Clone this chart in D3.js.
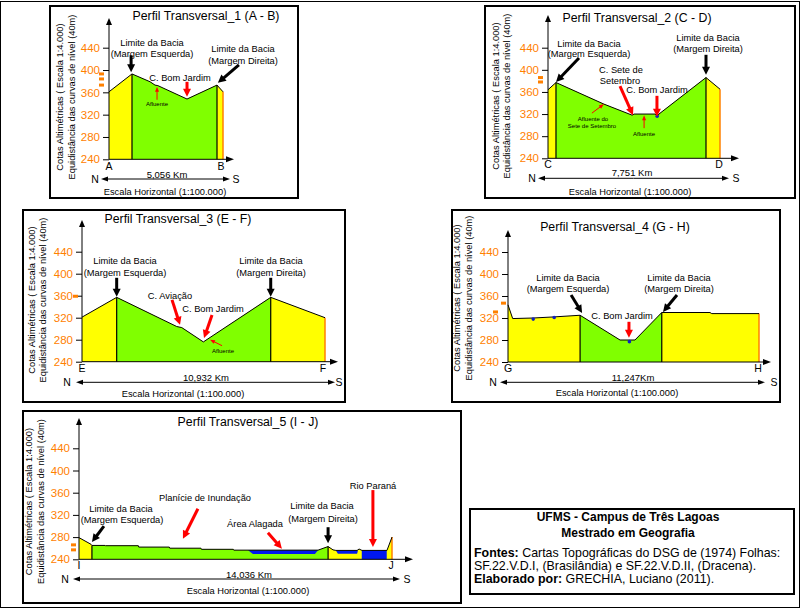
<!DOCTYPE html>
<html><head><meta charset="utf-8">
<script src="https://cdn.jsdelivr.net/npm/d3@7"></script>
<style>
body{margin:0;background:#fff}
svg text{font-family:"Liberation Sans",Arial,sans-serif}
</style></head><body>
<svg id="c" width="802" height="610"></svg>
<script>
// ---------- DATA ----------
const yTicks = [240, 280, 320, 360, 400, 440];
const profileTitles = ["Perfil Transversal_1 (A - B)", "Perfil Transversal_2 (C - D)", "Perfil Transversal_3 (E - F)", "Perfil Transversal_4 (G - H)", "Perfil Transversal_5 (I - J)"];
const endLetters = [["A","B"],["C","D"],["E","F"],["G","H"],["I","J"]];
const totalKm = [5.056, 7.751, 10.932, 11.247, 14.036];
const distanceLabels = ["5,056 Km", "7,751 Km", "10,932 Km", "11,247Km", "14,036 Km"];

// [distance km, elevation m]
const profile1 = [[0,361],[1.02,393],[1.82,379],[2.04,373],[2.17,372],[3.46,348],[4.79,373],[5.056,361]];
const profile2 = [[0,364],[0.36,377],[2.52,338],[3.79,318],[3.88,320],[4.83,320],[4.92,316],[5.0,320],[7.12,386],[7.751,365]];
const profile3 = [[0,321],[1.56,357],[4.26,304],[4.49,302],[5.46,276],[8.49,357],[10.932,320]];
const profile4 = [[0,344],[0.21,319],[1.13,320],[2.07,322],[3.23,325],[5.02,280],[5.69,280],[6.89,330],[9.05,330],[9.13,328],[11.247,328]];
const profile5 = [[0,279],[0.54,267],[0.58,265],[1.17,265],[1.19,264.5],[2.66,264.5],[2.68,262],[4.05,262],[4.07,260],[5.47,260],[5.49,258],[6.92,258],[6.94,256.5],[10.72,256.5],[11.17,263],[11.39,257],[11.52,256],[12.47,256],[12.56,258.5],[12.69,256],[13.81,256],[14.036,280]];

// basin limits (km) – green zone
const basin1 = [1.02, 4.79];
const basin2 = [0.36, 7.12];
const basin3 = [1.56, 8.49];
const basin4 = [3.23, 6.89];
const basin5 = [0.58, 11.17];

// water bodies in profile 5 (km, m)
const areaAlagada = [[7.58,256.5],[10.72,256.5],[10.58,249.5],[7.80,249.5]];
const pondRight = [[11.52,256],[12.51,256],[12.47,250],[11.61,250]];
const rioParana = [[12.68,256],[13.80,256],[13.80,240],[12.68,240]];

// stream points (km, m)
const streams2 = [[4.92,316]];
const streams4 = [[1.13,318],[2.07,321],[5.44,277]];

// orange marks on the elevation axis (m)
const marks1 = [393, 384, 373];
const marks2 = [386, 378];
const marks3 = [359];
const marks4 = [347, 331];
const marks5 = [266, 257];

// ---------- LAYOUT ----------
const panels = [
 {profile:profile1, basin:basin1, water:[], streams:[], marks:marks1, markX:[-6,-6,-6],
  box:[50,6,298,198], xr:[109,223], yr:[159.3,47.7], yTop:18, xEnd:234,
  title:[206,20], yt:[62.5,74.5,97], letY:170, letX:[109,221], km:[167,177.5], ns:[95,236,179,101,230], esc:[165,195],
  texts:[["Limite da Bacia",152,45.5],["(Margem Esquerda)",152,56.5],["Limite da Bacia",243,51.5],["(Margem Direita)",243,63.5],["C. Bom Jardim",180,80.5],["Afluente",157,106,6]],
  arrows:[[0.98,396,0,-17,"#000",1],[4.83,377,21,-18,"#000",1],[3.46,352,0,-15,"#f00",1],[2.13,370,0,13,"#f00",0]]},
 {profile:profile2, basin:basin2, water:[], streams:streams2, marks:marks2, markX:[-6,-6],
  box:[485,6,795,198], xr:[548,720], yr:[158.3,47.7], yTop:15, xEnd:739,
  title:[637,21.5], yt:[498.5,509.5,96], letY:167.5, letX:[548,719], km:[632,176], ns:[532,736,178.3,538,729], esc:[630,195],
  texts:[["Limite da Bacia",589,46.5],["(Margem Esquerda)",589,57],["Limite da Bacia",708,40.5],["(Margem Direita)",708,51.5],["C. Sete de",621,72.5],["Setembro",620,84],["C. Bom Jardim",657,92.5],["Afluente do",593,121,6],["Sete de Setembro",592,127.5,6],["Afluente",644,136,6]],
  arrows:[[0.36,378,23,-24,"#000",1],[7.12,391,0,-20,"#000",1],[3.83,318,-13,-29,"#f00",1],[4.91,315,0,-21,"#f00",1],[2.52,338,-12,9,"#f00",0],[4.33,318,0,13,"#f00",0]]},
 {profile:profile3, basin:basin3, water:[], streams:[], marks:marks3, markX:[-5],
  box:[23,210,345,402], xr:[82,325], yr:[361.7,251.7], yTop:220, xEnd:338,
  title:[178,222.5], yt:[35,46,300], letY:372, letX:[82,323], km:[206,380.5], ns:[67,339,382.3,76,335], esc:[183,396.5],
  texts:[["Limite da Bacia",125,264],["(Margem Esquerda)",125,275.5],["Limite da Bacia",271,264],["(Margem Direita)",271,275.5],["C. Aviação",170,299],["C. Bom Jardim",213,312],["Afluente",223,353,6]],
  arrows:[[1.56,358,0,-19,"#000",1],[8.49,358,0,-19,"#000",1],[4.41,307,-8,-25,"#f00",1],[5.49,283,8,-23,"#f00",1],[5.76,280,12,6,"#f00",0]]},
 {profile:profile4, basin:basin4, water:[], streams:streams4, marks:marks4, markX:[-3,-11],
  box:[452,210,780,402], xr:[508,759], yr:[362,252], yTop:230, xEnd:771,
  title:[615,231], yt:[460,472,298], letY:372, letX:[508,758], km:[633,381], ns:[493,774,382.3,500,765], esc:[617,396],
  texts:[["Limite da Bacia",568,280.5],["(Margem Esquerda)",568,291.5],["Limite da Bacia",679,280.5],["(Margem Direita)",679,291.5],["C. Bom Jardim",622,319]],
  arrows:[[3.32,329,-11,-18,"#000",1],[6.945,331,14,-17,"#000",1],[5.42,284,0,-16,"#f00",1]]},
 {profile:profile5, basin:basin5, water:[areaAlagada,pondRight,rioParana], streams:[], marks:marks5, markX:[-4,-4],
  box:[23,411,461,603], xr:[79,392], yr:[559.3,448.3], yTop:418, xEnd:413,
  title:[248,426], yt:[32,44,501.5], letY:569, letX:[79,391], km:[249,577.5], ns:[65,407,579,73,400], esc:[248,593.5],
  texts:[["Limite da Bacia",121,511.5],["(Margem Esquerda)",122,522.5],["Planície de Inundação",205,501],["Área Alagada",255,527],["Limite da Bacia",322,509],["(Margem Direita)",323,521.5],["Rio Paraná",373,488.5]],
  arrows:[[0.58,271,12,-16,"#000",1],[4.66,277,15,-30,"#f00",1],[9.10,259,-14,-16,"#f00",1],[11.17,269,0,-16,"#000",1],[13.18,262,0,-57,"#f00",1]]}
];

const YELLOW = "#ffff00", GREEN = "#80ff00", BLUE = "#0018f0", ORANGE = "#ff8000";

const svg = d3.select("#c");
const defs = svg.append("defs");
svg.append("rect").attr("x",0.5).attr("y",1.5).attr("width",799).attr("height",606)
  .attr("fill","none").attr("stroke","#000").attr("stroke-width",1);

function arrow(g, x1, y1, x2, y2, color, w, hl, hw) {
  const dx = x2 - x1, dy = y2 - y1, L = Math.hypot(dx, dy), ux = dx / L, uy = dy / L;
  const bx = x2 - ux * hl, by = y2 - uy * hl;
  g.append("line").attr("x1", x1).attr("y1", y1).attr("x2", bx + ux).attr("y2", by + uy)
    .attr("stroke", color).attr("stroke-width", w);
  g.append("path").attr("d", `M${x2},${y2}L${bx - uy * hw / 2},${by + ux * hw / 2}L${bx + uy * hw / 2},${by - ux * hw / 2}Z`)
    .attr("fill", color);
}
function elevAt(p, km) {
  for (let i = 1; i < p.length; i++) {
    if (km <= p[i][0]) {
      const t = (km - p[i-1][0]) / (p[i][0] - p[i-1][0]);
      return p[i-1][1] + t * (p[i][1] - p[i-1][1]);
    }
  }
  return p[p.length-1][1];
}
function txt(g, s, x, y, size, opts = {}) {
  return g.append("text").attr("x", x).attr("y", y).attr("font-size", size + "px")
    .attr("text-anchor", opts.anchor || "middle").attr("fill", opts.fill || "#000")
    .attr("font-weight", opts.weight || "normal").text(s);
}

panels.forEach((P, i) => {
  const g = svg.append("g");
  const [bx0, by0, bx1, by1] = P.box;
  g.append("rect").attr("x", bx0).attr("y", by0).attr("width", bx1 - bx0).attr("height", by1 - by0)
    .attr("fill", "#fff").attr("stroke", "#000").attr("stroke-width", 2);

  const x = d3.scaleLinear().domain([0, totalKm[i]]).range(P.xr);
  const y = d3.scaleLinear().domain([240, 440]).range(P.yr);
  const area = d3.area().x(d => x(d[0])).y0(y(240)).y1(d => y(d[1]));
  const line = d3.line().x(d => x(d[0])).y(d => y(d[1]));

  // yellow full profile
  g.append("path").datum(P.profile).attr("d", area).attr("fill", YELLOW);
  // green basin
  const cid = "clip" + i;
  defs.append("clipPath").attr("id", cid).append("rect")
    .attr("x", x(P.basin[0])).attr("y", by0).attr("width", x(P.basin[1]) - x(P.basin[0])).attr("height", y(240) - by0);
  g.append("path").datum(P.profile).attr("d", area).attr("fill", GREEN).attr("clip-path", `url(#${cid})`);
  // water
  P.water.forEach(w => {
    g.append("path").attr("d", d3.line().x(d => x(d[0])).y(d => y(d[1]))(w) + "Z").attr("fill", BLUE);
  });
  // dividers
  P.basin.forEach(b => {
    g.append("line").attr("x1", x(b)).attr("x2", x(b)).attr("y1", y(240)).attr("y2", y(elevAt(P.profile, b)))
      .attr("stroke", "#000").attr("stroke-width", 1.2);
  });
  const last = P.profile[P.profile.length - 1];
  g.append("line").attr("x1", x(last[0])).attr("x2", x(last[0])).attr("y1", y(240)).attr("y2", y(last[1]))
    .attr("stroke", ORANGE).attr("stroke-width", 1.5);
  // profile line
  g.append("path").datum(P.profile).attr("d", line).attr("fill", "none").attr("stroke", "#000").attr("stroke-width", 1);
  // stream points
  g.selectAll(null).data(P.streams).join("circle").attr("cx", d => x(d[0])).attr("cy", d => y(d[1]))
    .attr("r", 1.8).attr("fill", "#1020c0");

  // y axis
  const ax = g.append("g").attr("transform", `translate(${P.xr[0]},0)`)
    .call(d3.axisLeft(y).tickValues(yTicks).tickSize(6).tickPadding(3).tickSizeOuter(0));
  ax.select(".domain").remove();
  ax.selectAll("text").attr("fill", ORANGE).attr("font-size", "11.5px").attr("font-family", '"Liberation Sans",Arial,sans-serif');
  ax.selectAll("line").attr("stroke", "#000");
  arrow(g, P.xr[0], y(240), P.xr[0], P.yTop, "#000", 1, 7, 6);
  arrow(g, P.xr[0], y(240), P.xEnd, y(240), "#000", 1, 8, 6);
  // orange marks
  P.marks.forEach((m, k) => {
    g.append("rect").attr("x", P.xr[0] + P.markX[k] - 4).attr("y", y(m) - 1.5).attr("width", 5).attr("height", 3).attr("fill", ORANGE);
  });

  // titles
  txt(g, profileTitles[i], P.title[0], P.title[1], 12.3);
  [["Cotas Altimétricas ( Escala 1:4.000)", P.yt[0]], ["Equidistância das curvas de nível (40m)", P.yt[1]]].forEach(([s, xx]) => {
    g.append("text").attr("transform", `translate(${xx},${P.yt[2]}) rotate(-90)`).attr("text-anchor", "middle")
      .attr("font-size", "9.3px").attr("fill", "#000").text(s);
  });
  txt(g, endLetters[i][0], P.letX[0], P.letY, 10.5);
  txt(g, endLetters[i][1], P.letX[1], P.letY, 10.5);
  txt(g, distanceLabels[i], P.km[0], P.km[1], 9.5);
  txt(g, "N", P.ns[0], P.ns[2] + 3.8, 10.5);
  txt(g, "S", P.ns[1], P.ns[2] + 3.8, 10.5);
  arrow(g, (P.ns[3] + P.ns[4]) / 2, P.ns[2], P.ns[4], P.ns[2], "#000", 1, 7, 5);
  arrow(g, (P.ns[3] + P.ns[4]) / 2, P.ns[2], P.ns[3], P.ns[2], "#000", 1, 7, 5);
  txt(g, "Escala Horizontal (1:100.000)", P.esc[0], P.esc[1], 9.3);

  P.texts.forEach(t => txt(g, t[0], t[1], t[2], t[3] || 9.3));
  P.arrows.forEach(a => {
    const tx = x(a[0]), ty = y(a[1]);
    if (a[5]) arrow(g, tx + a[2], ty + a[3], tx, ty, a[4], 3, 8, 8);
    else arrow(g, tx + a[2], ty + a[3], tx, ty, a[4], 1, 5, 4);
  });
});

// credits box
const cb = svg.append("g");
cb.append("rect").attr("x", 470).attr("y", 509).attr("width", 324).attr("height", 85)
  .attr("fill", "#fff").attr("stroke", "#000").attr("stroke-width", 2);
txt(cb, "UFMS - Campus de Três Lagoas", 628, 521, 12, {weight: "bold"});
txt(cb, "Mestrado em Geografia", 628, 537, 12, {weight: "bold"});
const l1 = cb.append("text").attr("x", 474).attr("y", 557).attr("font-size", "12.4px");
l1.append("tspan").attr("font-weight", "bold").text("Fontes: ");
l1.append("tspan").text("Cartas Topográficas do DSG de (1974) Folhas:");
cb.append("text").attr("x", 474).attr("y", 570).attr("font-size", "12.4px").text("SF.22.V.D.I, (Brasilândia) e SF.22.V.D.II, (Dracena).");
const l3 = cb.append("text").attr("x", 474).attr("y", 582.5).attr("font-size", "12.4px");
l3.append("tspan").attr("font-weight", "bold").text("Elaborado por: ");
l3.append("tspan").text("GRECHIA, Luciano (2011).");
</script>
</body></html>
